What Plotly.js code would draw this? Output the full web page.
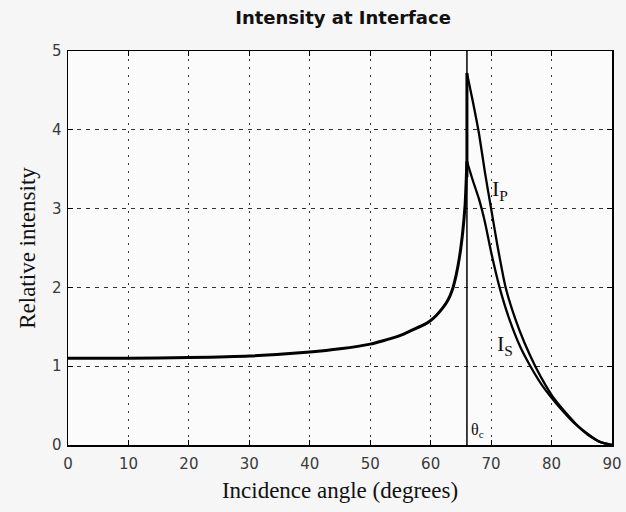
<!DOCTYPE html>
<html>
<head>
<meta charset="utf-8">
<script src="https://cdn.plot.ly/plotly-3.0.1.min.js"></script>
<style>
  html, body { margin: 0; padding: 0; background: #f6f6f6; }
  #chart { width: 626px; height: 512px; }
</style>
</head>
<body>
<div id="chart"></div>
<script>
// Below the critical angle both curves coincide
const riseAngles = [0, 10, 20, 30, 40, 45, 50, 52, 55, 57, 59, 60, 61, 62, 62.8, 63.5, 64.2, 64.8, 65.3, 65.7, 65.9];
const riseValues = [1.10, 1.10, 1.11, 1.13, 1.18, 1.22, 1.28, 1.32, 1.39, 1.46, 1.53, 1.58, 1.65, 1.74, 1.83, 1.95, 2.15, 2.4, 2.7, 3.05, 3.4];

// Above the critical angle (evanescent region)
const pAngles = [66, 67, 68, 69, 70, 71, 72.4, 74, 75.5, 77.3, 79, 80.5, 82, 84, 86, 88, 90];
const pValues = [4.72, 4.35, 3.95, 3.45, 3.0, 2.55, 2.0, 1.6, 1.3, 1.0, 0.76, 0.58, 0.44, 0.27, 0.14, 0.04, 0];

const sAngles = [66, 67, 68, 69, 70, 71.4, 73, 74.8, 76.5, 78.5, 80, 82, 84, 86, 88, 90];
const sValues = [3.6, 3.35, 3.12, 2.82, 2.45, 2.0, 1.6, 1.25, 1.0, 0.75, 0.6, 0.42, 0.26, 0.13, 0.04, 0];

const criticalAngle = 66;
const xTicks = [0, 10, 20, 30, 40, 50, 60, 70, 80, 90];
const yTicks = [0, 1, 2, 3, 4, 5];

const lineStyle = {color: '#000000', width: 2.3};
const thick = {color: '#000000', width: 3, shape: 'spline', smoothing: 0.6};

const traces = [
  {x: riseAngles.concat([sAngles[0]]), y: riseValues.concat([sValues[0]]), mode: 'lines', line: thick},
  {x: [criticalAngle, criticalAngle], y: [riseValues[riseValues.length - 1], pValues[0]], mode: 'lines', line: {color: '#000000', width: 3}},
  {x: pAngles, y: pValues, mode: 'lines', line: Object.assign({shape: 'spline', smoothing: 0.5}, lineStyle)},
  {x: sAngles, y: sValues, mode: 'lines', line: Object.assign({shape: 'spline', smoothing: 0.5}, lineStyle)}
];

const tickFont = {family: 'DejaVu Sans, Verdana, sans-serif', size: 15, color: '#3a3a3a'};
const axisTitleFont = {family: 'Liberation Serif, Times New Roman, serif', size: 23, color: '#111111'};

const layout = {
  width: 626, height: 512,
  margin: {l: 68, r: 14, t: 51, b: 67},
  paper_bgcolor: '#f6f6f6',
  plot_bgcolor: '#fbfbfb',
  showlegend: false,
  title: {
    text: '<b>Intensity at Interface</b>',
    font: {family: 'DejaVu Sans, Verdana, sans-serif', size: 18, color: '#111111'},
    x: 0.548, xanchor: 'center', y: 0.965, yanchor: 'middle'
  },
  xaxis: {
    range: [0, 90], tickvals: xTicks, ticktext: xTicks.map(String),
    showline: true, linecolor: '#000000', linewidth: 1.5, mirror: 'ticks',
    ticks: 'inside', ticklen: 5, tickcolor: '#000000',
    showgrid: true, gridcolor: '#333333', gridwidth: 1, griddash: '2px,6px',
    zeroline: false, tickfont: tickFont, ticklabelstandoff: 4,
    title: {text: 'Incidence angle (degrees)', font: axisTitleFont, standoff: 10}
  },
  yaxis: {
    range: [0, 5], tickvals: yTicks, ticktext: yTicks.map(String),
    showline: true, linecolor: '#000000', linewidth: 1.5, mirror: 'ticks',
    ticks: 'inside', ticklen: 5, tickcolor: '#000000',
    showgrid: true, gridcolor: '#333333', gridwidth: 1, griddash: '4px,5px',
    zeroline: false, tickfont: tickFont, ticklabelstandoff: 2,
    title: {text: 'Relative intensity', font: axisTitleFont, standoff: 10}
  },
  shapes: [
    {type: 'line', xref: 'x', yref: 'y', x0: criticalAngle, x1: criticalAngle, y0: 0, y1: 5,
     line: {color: '#000000', width: 1.5}}
  ],
  annotations: [
    {x: 71.5, y: 3.23, xref: 'x', yref: 'y', text: 'I<sub>P</sub>', showarrow: false,
     font: {family: 'Liberation Serif, Times New Roman, serif', size: 22, color: '#111111'}},
    {x: 72.3, y: 1.27, xref: 'x', yref: 'y', text: 'I<sub>S</sub>', showarrow: false,
     font: {family: 'Liberation Serif, Times New Roman, serif', size: 22, color: '#111111'}},
    {x: 67.7, y: 0.19, xref: 'x', yref: 'y', text: 'θ<sub>c</sub>', showarrow: false,
     font: {family: 'Liberation Serif, Times New Roman, serif', size: 16, color: '#111111'}}
  ]
};

Plotly.newPlot('chart', traces, layout, {displayModeBar: false, staticPlot: true});
</script>
</body>
</html>
